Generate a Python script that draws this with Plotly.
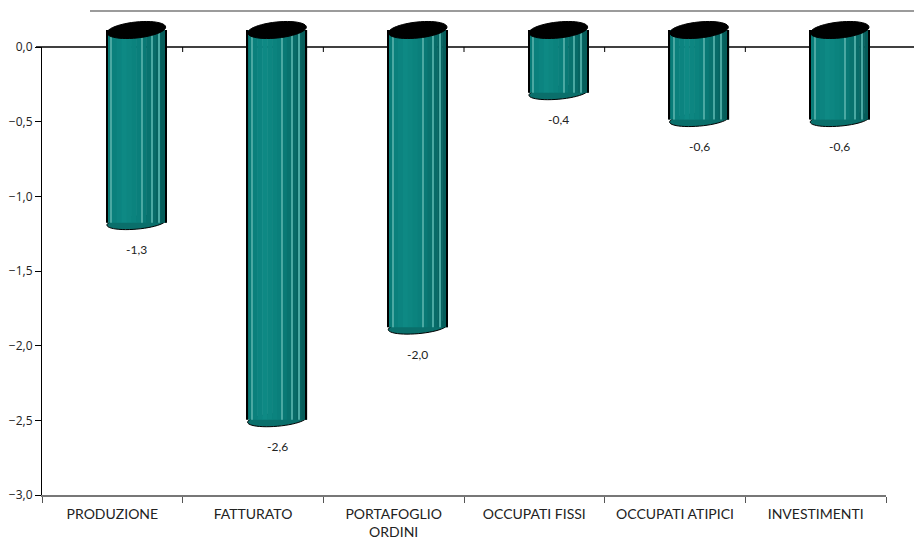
import math
import plotly.graph_objects as go

# ---- data ----
categories = ["PRODUZIONE", "FATTURATO", "PORTAFOGLIO<br>ORDINI",
              "OCCUPATI FISSI", "OCCUPATI ATIPICI", "INVESTIMENTI"]
values = [-1.29, -2.61, -1.99, -0.42, -0.60, -0.60]
y_ticks = [0.0, -0.5, -1.0, -1.5, -2.0, -2.5, -3.0]

# page body has an 8px margin, so the figure is offset by 8px
W, H = 914, 533
ML, MR, MT, MB = 34, 0, 2, 46
PW, PH = W - ML - MR, H - MT - MB          # plot area 880 x 485
AXW, AXH = 844, 448                        # front axes size in px
DX, DY = 24, 17                            # 3D depth offset in px
PXX = AXW / 6.0                            # px per category
PXY = AXH / 3.0                            # px per unit

idx = list(range(len(values)))
fig = go.Figure()

# invisible trace to activate front category axis
fig.add_trace(go.Scatter(x=categories, y=[None] * len(categories), mode="markers",
                         marker=dict(opacity=0), hoverinfo="skip", showlegend=False))

# ---- cylinder bodies built from vertical strips ----
BW = 59 / PXX
def hexrgb(h):
    h = h.lstrip("#")
    return [int(h[i:i + 2], 16) for i in (0, 2, 4)]
stops = [(0.0, "#077a76"), (0.3, "#0e8984"), (0.55, "#0a7f7b"), (1.0, "#045a57")]
def col(f):
    for (f0, c0), (f1, c1) in zip(stops[:-1], stops[1:]):
        if f0 <= f <= f1:
            t = (f - f0) / (f1 - f0)
            a, b = hexrgb(c0), hexrgb(c1)
            return "rgb(%d,%d,%d)" % tuple(round(a[k] + (b[k] - a[k]) * t) for k in range(3))
    return stops[-1][1]

N = 12
for s in range(N):
    f0 = s / N
    fig.add_trace(go.Bar(x=idx, y=values, width=BW / N + 0.004, offset=-BW / 2 + f0 * BW,
                         marker=dict(color=col((s + 0.5) / N), line=dict(width=0)),
                         xaxis="x2", yaxis="y2", hoverinfo="skip", showlegend=False))
for f in (0.07, 0.58, 0.75, 0.87):
    fig.add_trace(go.Bar(x=idx, y=values, width=1 / PXX, offset=-BW / 2 + f * BW,
                         marker=dict(color="#4aa8a2", line=dict(width=0)),
                         xaxis="x2", yaxis="y2", hoverinfo="skip", showlegend=False))
for f in (0.0, 1.0):
    fig.add_trace(go.Bar(x=idx, y=values, width=1.2 / PXX, offset=-BW / 2 + f * BW - 0.6 / PXX,
                         marker=dict(color="#000000", line=dict(width=0)),
                         xaxis="x2", yaxis="y2", hoverinfo="skip", showlegend=False))

def ellipse_path(cx, cy, a, b, rot):
    phi = math.radians(rot)
    pts = []
    for k in range(48):
        t = 2 * math.pi * k / 48
        dx = a * math.cos(t) * math.cos(phi) - b * math.sin(t) * math.sin(phi)
        dy = a * math.cos(t) * math.sin(phi) + b * math.sin(t) * math.cos(phi)
        pts.append((cx + dx / PXX, cy + dy / PXY))
    return "M " + " L ".join("%.5f,%.5f" % p for p in pts) + " Z"

shapes = []
# zero line (behind the cylinders) and its small ticks
shapes.append(dict(type="line", xref="paper", yref="paper", x0=-6 / PW, x1=1,
                   y0=AXH / PH, y1=AXH / PH, layer="below",
                   line=dict(color="#000000", width=1.3)))
for b in range(1, 6):
    shapes.append(dict(type="line", xref="x", yref="y", x0=b - 0.5, x1=b - 0.5,
                       ysizemode="pixel", yanchor=0, y0=0, y1=-5, layer="below",
                       line=dict(color="#000000", width=1)))
# top back-wall line
shapes.append(dict(type="line", xref="paper", yref="paper", x0=(90 - 42) / PW, x1=1,
                   y0=1 - 1 / PH, y1=1 - 1 / PH, line=dict(color="#7a7a7a", width=1.6)))
for i, v in zip(idx, values):
    # bottom cap (under the body)
    shapes.append(dict(type="path", path=ellipse_path(i, v, 29.5, 6.5, 5),
                       xref="x2", yref="y2", fillcolor="#0a6f6b",
                       line=dict(color="#000000", width=1), layer="below"))
    # top cap
    shapes.append(dict(type="path", path=ellipse_path(i, 0, 29.5, 8, 6),
                       xref="x2", yref="y2", fillcolor="#000000",
                       line=dict(color="#000000", width=1), layer="above"))

annotations = []
for i, v in zip(idx, values):
    annotations.append(dict(x=i, y=v, xref="x2", yref="y", yshift=-10,
                            text=("%.1f" % v).replace(".", ","), showarrow=False,
                            font=dict(family="Lato", size=12, color="#222222")))

fig.update_layout(
    width=W, height=H, margin=dict(l=ML, r=MR, t=MT, b=MB, autoexpand=False),
    paper_bgcolor="white", plot_bgcolor="rgba(0,0,0,0)",
    barmode="overlay", separators=",.", showlegend=False,
    shapes=shapes, annotations=annotations,
    xaxis=dict(domain=[0, AXW / PW], type="category", categoryorder="array",
               categoryarray=categories, range=[-0.5, 5.5], tickson="boundaries",
               ticks="outside", ticklen=6, tickcolor="#555555", showline=True,
               linecolor="#777777", linewidth=1.5, showgrid=False, zeroline=False,
               automargin=False, ticklabelstandoff=5,
               tickfont=dict(family="Lato", size=14, color="#222222"), fixedrange=True),
    yaxis=dict(domain=[0, AXH / PH], range=[-3, 0], tickvals=y_ticks, tickformat=".1f",
               ticks="outside", ticklen=6, tickcolor="#000000", showline=True,
               linecolor="#000000", linewidth=1.2, showgrid=False, zeroline=False,
               automargin=False,
               tickfont=dict(family="Open Sans", size=12, color="#222222")),
    xaxis2=dict(domain=[DX / PW, 1], range=[-0.5, -0.5 + (PW - DX) / PXX],
                visible=False, anchor="y2"),
    yaxis2=dict(domain=[DY / PH, 1], range=[-3, -3 + (PH - DY) / PXY],
                visible=False, anchor="x2"),
)

fig.write_html("out.html")
